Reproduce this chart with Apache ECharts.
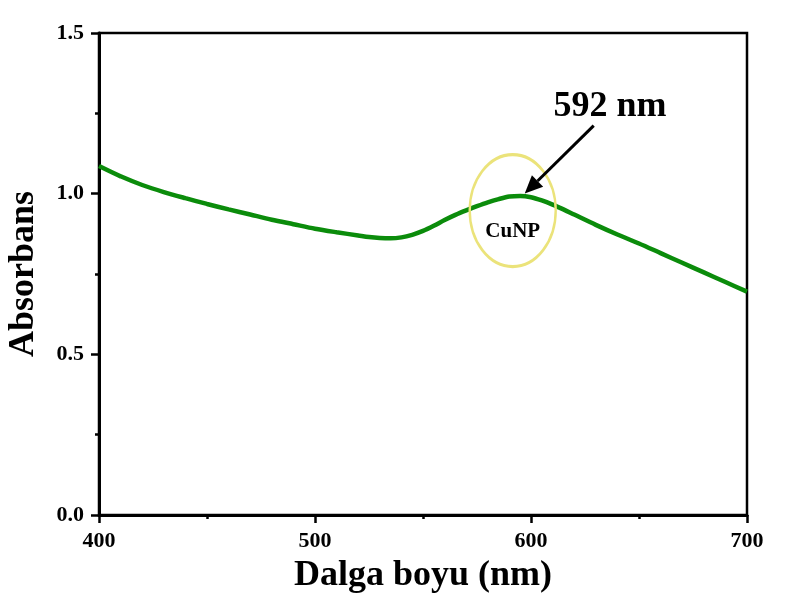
<!DOCTYPE html>
<html>
<head>
<meta charset="utf-8">
<script src="https://cdn.jsdelivr.net/npm/echarts@6/dist/echarts.min.js"></script>
<style>
html,body{margin:0;padding:0;background:#fff;}
#chart{width:791px;height:601px;}
</style>
</head>
<body>
<div id="chart"></div>
<script>
var wavelengths = [400,410,420,430,440,450,460,470,480,490,500,510,520,525,530,535,540,545,550,555,560,565,570,575,580,585,590,595,600,605,610,615,620,630,640,650,660,670,680,690,700];
var absorbance  = [1.086,1.054,1.027,1.005,0.986,0.968,0.951,0.935,0.919,0.905,0.891,0.880,0.870,0.865,0.862,0.861,0.864,0.872,0.884,0.900,0.918,0.934,0.948,0.961,0.973,0.983,0.991,0.993,0.989,0.979,0.966,0.951,0.935,0.903,0.873,0.845,0.815,0.785,0.755,0.725,0.695];
var peakLabel = '592 nm';
var peakWavelength = 592;
var peakValue = 0.994;
var sampleLabel = 'CuNP';
var xTitle = 'Dalga boyu (nm)';
var yTitle = 'Absorbans';

var FONT = '"Liberation Serif", "Times New Roman", serif';
var chart = echarts.init(document.getElementById('chart'));
var data = wavelengths.map(function(w,i){return [w, absorbance[i]];});
chart.setOption({
  animation: false,
  backgroundColor: '#fff',
  grid: {left: 99, right: 44, top: 33, bottom: 86, show: true, borderColor: '#000', borderWidth: 2.5,
         containLabel: false, outerBoundsMode: 'none'},
  xAxis: {
    type: 'value', min: 400, max: 700, interval: 100,
    name: xTitle, nameLocation: 'middle', nameGap: 43,
    nameTextStyle: {fontFamily: FONT, fontWeight: 'bold', fontSize: 36, color: '#000'},
    axisLine: {show: true, lineStyle: {color: '#000', width: 3}},
    axisTick: {show: true, length: 8, lineStyle: {color: '#000', width: 2.5}},
    minorTick: {show: true, splitNumber: 2, length: 4, lineStyle: {color: '#000', width: 2.5}},
    splitLine: {show: false},
    axisLabel: {fontFamily: FONT, fontWeight: 'bold', fontSize: 22, color: '#000', margin: 15}
  },
  yAxis: {
    type: 'value', min: 0, max: 1.5, interval: 0.5,
    name: yTitle, nameLocation: 'middle', nameGap: 57,
    nameTextStyle: {fontFamily: FONT, fontWeight: 'bold', fontSize: 36, color: '#000'},
    axisLine: {show: true, lineStyle: {color: '#000', width: 3}},
    axisTick: {show: true, length: 8, lineStyle: {color: '#000', width: 2.5}},
    minorTick: {show: true, splitNumber: 2, length: 4, lineStyle: {color: '#000', width: 2.5}},
    splitLine: {show: false},
    axisLabel: {fontFamily: FONT, fontWeight: 'bold', fontSize: 22, color: '#000', margin: 15,
      formatter: function(v){return v.toFixed(1);}}
  },
  series: [{
    type: 'line', data: data, showSymbol: false, smooth: 0.3,
    lineStyle: {color: '#0b8c0b', width: 4.5}
  }]
});

var peak = chart.convertToPixel({gridIndex: 0}, [peakWavelength, peakValue]);
var cx = peak[0] - 1, cy = peak[1] + 15;
var tip = [peak[0] + 11, peak[1] - 2];
var tail = [tip[0] + 69, tip[1] - 68];
var ang = Math.atan2(tip[1]-tail[1], tip[0]-tail[0]);
var hl = 18, hw = 8;
var bx = tip[0] - hl*Math.cos(ang), by = tip[1] - hl*Math.sin(ang);
var px = -Math.sin(ang), py = Math.cos(ang);
chart.setOption({
  graphic: [
    {type: 'circle', shape: {cx: 0, cy: 0, r: 43}, x: cx, y: cy, scaleY: 56/43,
     style: {fill: 'none', stroke: '#ebe37a', lineWidth: 2.4, strokeNoScale: true}, z: 10},
    {type: 'text', x: cx, y: cy + 21, style: {text: sampleLabel, fontFamily: FONT, fontWeight: 'bold', fontSize: 21, fill: '#000', align: 'center', verticalAlign: 'middle'}, z: 11},
    {type: 'line', shape: {x1: tail[0], y1: tail[1], x2: bx, y2: by}, style: {stroke: '#000', lineWidth: 3}, z: 11},
    {type: 'polygon', shape: {points: [[tip[0], tip[1]], [bx + px*hw, by + py*hw], [bx - px*hw, by - py*hw]]}, style: {fill: '#000'}, z: 11},
    {type: 'text', x: 610, y: 107, style: {text: peakLabel, fontFamily: FONT, fontWeight: 'bold', fontSize: 36, fill: '#000', align: 'center', verticalAlign: 'middle'}, z: 11}
  ]
});
</script>
</body>
</html>
